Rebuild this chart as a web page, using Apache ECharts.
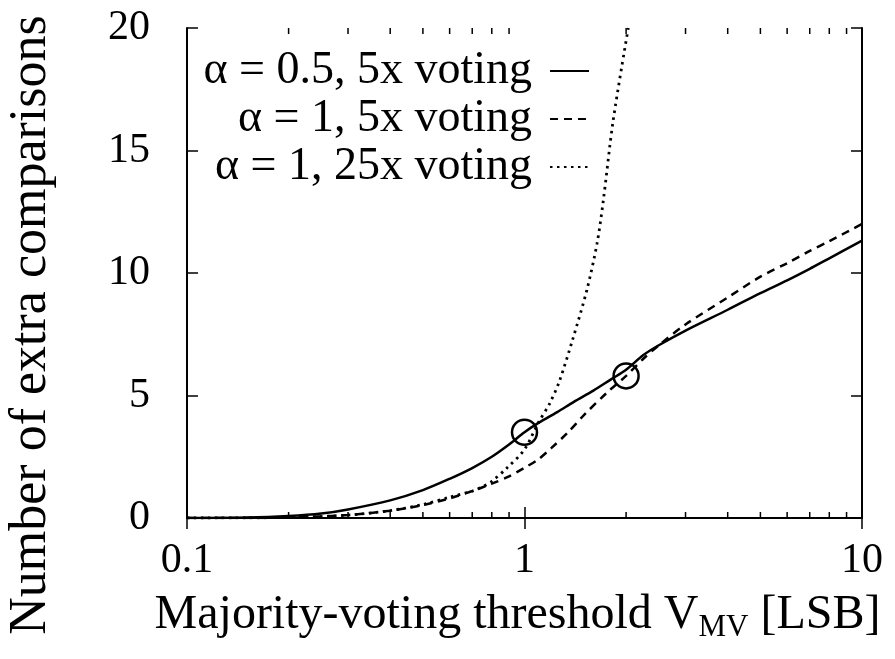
<!DOCTYPE html>
<html>
<head>
<meta charset="utf-8">
<script src="https://cdn.jsdelivr.net/npm/echarts@6/dist/echarts.min.js"></script>
<style>
html,body{margin:0;padding:0;background:#fff;}
#chart{width:895px;height:659px;}
</style>
</head>
<body>
<div id="chart"></div>
<script>
// ---- data ----
const seriesNames = ['α = 0.5, 5x voting', 'α = 1, 5x voting', 'α = 1, 25x voting'];

const solidX = [0.1, 0.15, 0.2, 0.25, 0.3, 0.4, 0.5, 0.6, 0.7, 0.8, 0.9, 1.0, 1.1, 1.25, 1.4, 1.6, 1.8, 2.0, 2.25, 2.5, 3, 4, 5, 6, 7, 8, 10];
const solidY = [0, 0.02, 0.08, 0.18, 0.35, 0.72, 1.14, 1.6, 2.04, 2.5, 3.0, 3.5, 3.88, 4.32, 4.74, 5.2, 5.65, 6.05, 6.65, 7.05, 7.65, 8.5, 9.18, 9.7, 10.17, 10.6, 11.32];

const dashX = [0.1, 0.15, 0.2, 0.3, 0.4, 0.5, 0.6, 0.7, 0.8, 0.9, 1.0, 1.1, 1.2, 1.34, 1.5, 1.75, 2.0, 2.25, 2.5, 3, 4, 5, 6, 7, 8, 10];
const dashY = [0, 0, 0.02, 0.12, 0.3, 0.53, 0.8, 1.1, 1.4, 1.7, 2.05, 2.4, 2.85, 3.47, 4.2, 5.1, 5.8, 6.5, 7.05, 7.9, 9.0, 9.85, 10.4, 10.9, 11.3, 12.0];

const dotX = [0.1, 0.2, 0.3, 0.4, 0.5, 0.6, 0.7, 0.75, 0.8, 0.887, 1.0, 1.1, 1.19, 1.27, 1.39, 1.53, 1.64, 1.71, 1.83, 2.03];
const dotY = [0, 0.02, 0.12, 0.3, 0.55, 0.85, 1.1, 1.27, 1.5, 2.04, 2.8, 3.9, 4.7, 5.6, 7.3, 9.3, 11.2, 12.9, 16.2, 20];

const circleX = [1, 2];
const circleY = [3.5, 5.8];

const xMin = 0.1, xMax = 10;
const yMin = 0, yMax = 20, yStep = 5;
const xMinorTicks = [0.2, 0.3, 0.4, 0.5, 0.6, 0.7, 0.8, 0.9, 2, 3, 4, 5, 6, 7, 8, 9];

const xTitle = 'Majority-voting threshold V{sub|MV} [LSB]';
const yTitle = 'Number of extra comparisons';

// ---- chart ----
const FONT = "'Liberation Serif', 'Times New Roman', serif";
const zip = (xs, ys) => xs.map((x, i) => [x, ys[i]]);

const chart = echarts.init(document.getElementById('chart'));

function legendFor(i, centerY) {
  return {
    data: [seriesNames[i]],
    right: 305,
    top: centerY - 23,
    orient: 'vertical',
    align: 'right',
    padding: 0,
    itemWidth: 39,
    itemHeight: 14,
    selectedMode: false,
    itemStyle: { color: 'rgba(0,0,0,0)', borderColor: 'rgba(0,0,0,0)', borderWidth: 0 },
    textStyle: {
      fontFamily: FONT, fontSize: 46, color: '#000', lineHeight: 46,
      padding: [0, 13, 0, 0]
    }
  };
}

const option = {
  animation: false,
  backgroundColor: '#fff',
  grid: { left: 187, right: 33, top: 28, bottom: 141, containLabel: false, outerBoundsMode: 'none' },
  legend: [legendFor(0, 71), legendFor(1, 119), legendFor(2, 167)],
  xAxis: [
    {
      type: 'log', logBase: 10, min: xMin, max: xMax, position: 'bottom',
      axisLine: { show: true, lineStyle: { color: '#000', width: 2 } },
      axisTick: { show: true, inside: true, length: 11, lineStyle: { color: '#000', width: 1.5 } },
      minorTick: { show: false },
      splitLine: { show: false },
      axisLabel: {
        show: true, margin: 22, color: '#000', fontFamily: FONT, fontSize: 42,
        formatter: v => String(v)
      },
      name: xTitle, nameLocation: 'middle', nameGap: 64,
      nameTextStyle: {
        fontFamily: FONT, fontSize: 48, color: '#000', lineHeight: 56,
        padding: [0, 14, 0, 0],
        rich: { sub: { fontFamily: FONT, fontSize: 31, color: '#000', lineHeight: 56, verticalAlign: 'bottom' } }
      }
    },
    {
      type: 'log', logBase: 10, min: xMin, max: xMax, position: 'top',
      axisLine: { show: true, lineStyle: { color: '#000', width: 2 } },
      axisTick: { show: true, inside: true, length: 11, lineStyle: { color: '#000', width: 1.5 } },
      axisLabel: { show: false },
      splitLine: { show: false }
    }
  ],
  yAxis: [
    {
      type: 'value', min: yMin, max: yMax, interval: yStep, position: 'left',
      axisLine: { show: true, lineStyle: { color: '#000', width: 2 } },
      axisTick: { show: true, inside: true, length: 11, lineStyle: { color: '#000', width: 1.5 } },
      splitLine: { show: false },
      axisLabel: { show: true, margin: 37, color: '#000', fontFamily: FONT, fontSize: 42 },
      name: yTitle, nameLocation: 'middle', nameRotate: 90, nameGap: 130,
      nameTextStyle: { fontFamily: FONT, fontSize: 52, color: '#000', padding: [0, 104, 0, 0] }
    },
    {
      type: 'value', min: yMin, max: yMax, interval: yStep, position: 'right',
      axisLine: { show: true, lineStyle: { color: '#000', width: 2 } },
      axisTick: { show: true, inside: true, length: 11, lineStyle: { color: '#000', width: 1.5 } },
      splitLine: { show: false },
      axisLabel: { show: false }
    }
  ],
  series: [
    {
      name: seriesNames[0], type: 'line', xAxisIndex: 0, yAxisIndex: 0,
      data: zip(solidX, solidY), smooth: 0.3, symbol: 'none',
      lineStyle: { color: '#000', width: 2.5, type: 'solid' },
      itemStyle: { color: '#000' }
    },
    {
      name: seriesNames[1], type: 'line', xAxisIndex: 0, yAxisIndex: 0,
      data: zip(dashX, dashY), smooth: 0.3, symbol: 'none',
      lineStyle: { color: '#000', width: 2.5, type: [8, 6] },
      itemStyle: { color: '#000' }
    },
    {
      name: seriesNames[2], type: 'line', xAxisIndex: 0, yAxisIndex: 0,
      data: zip(dotX, dotY), smooth: 0.3, symbol: 'none',
      lineStyle: { color: '#000', width: 2.8, type: [2.5, 4.5] },
      itemStyle: { color: '#000' }
    },
    {
      name: 'markers', type: 'scatter', xAxisIndex: 0, yAxisIndex: 0,
      data: zip(circleX, circleY), symbol: 'circle', symbolSize: 25,
      itemStyle: { color: 'rgba(0,0,0,0)', borderColor: '#000', borderWidth: 2.5, opacity: 1 },
      silent: true, z: 5
    },
    {
      name: 'minorTicks', type: 'custom', xAxisIndex: 0, yAxisIndex: 0,
      data: xMinorTicks.map(v => [v, yMin]), silent: true, clip: false,
      renderItem: function (params, api) {
        const v = api.value(0);
        const b = api.coord([v, yMin]);
        const t = api.coord([v, yMax]);
        return {
          type: 'group',
          children: [
            { type: 'line', shape: { x1: b[0], y1: b[1], x2: b[0], y2: b[1] - 6 }, style: { stroke: '#000', lineWidth: 1.5 } },
            { type: 'line', shape: { x1: t[0], y1: t[1], x2: t[0], y2: t[1] + 6 }, style: { stroke: '#000', lineWidth: 1.5 } }
          ]
        };
      }
    }
  ]
};
chart.setOption(option);
</script>
</body>
</html>
